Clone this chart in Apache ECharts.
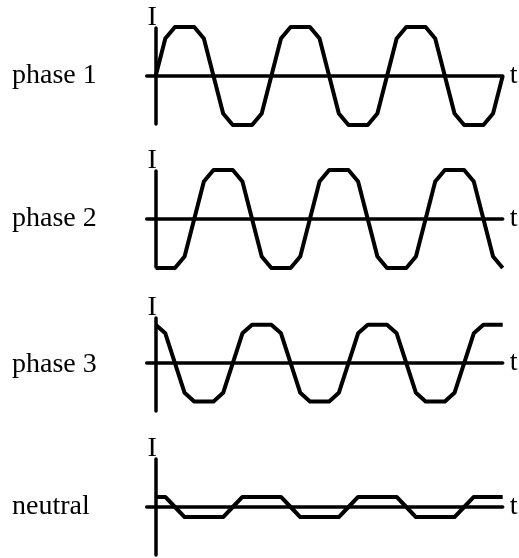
<!DOCTYPE html>
<html>
<head>
<meta charset="utf-8">
<script src="https://cdn.jsdelivr.net/npm/echarts@6/dist/echarts.min.js"></script>
<style>
  html, body { margin: 0; padding: 0; background: #fff; }
  #chart { width: 519px; height: 558px; }
</style>
</head>
<body>
<div id="chart"></div>
<script>
// time steps (30 degree steps, 3 full cycles)
let t = [0, 1, 2, 3, 4, 5, 6, 7, 8, 9, 10, 11, 12, 13, 14, 15, 16, 17, 18,
  19, 20, 21, 22, 23, 24, 25, 26, 27, 28, 29, 30, 31, 32, 33, 34, 35, 36];

let phase1 = [0, 0.78, 1.02, 1.02, 1.02, 0.78, 0, -0.78, -1.02, -1.02, -1.02, -0.78,
  0, 0.78, 1.02, 1.02, 1.02, 0.78, 0, -0.78, -1.02, -1.02, -1.02, -0.78,
  0, 0.78, 1.02, 1.02, 1.02, 0.78, 0, -0.78, -1.02, -1.02, -1.02, -0.78, 0];

let phase2 = [-1.02, -1.02, -1.02, -0.78, 0, 0.78, 1.02, 1.02, 1.02, 0.78, 0, -0.78,
  -1.02, -1.02, -1.02, -0.78, 0, 0.78, 1.02, 1.02, 1.02, 0.78, 0, -0.78,
  -1.02, -1.02, -1.02, -0.78, 0, 0.78, 1.02, 1.02, 1.02, 0.78, 0, -0.78, -1.02];

let phase3 = [0.8, 0.62, 0, -0.62, -0.8, -0.8, -0.8, -0.62, 0, 0.62, 0.8, 0.8,
  0.8, 0.62, 0, -0.62, -0.8, -0.8, -0.8, -0.62, 0, 0.62, 0.8, 0.8,
  0.8, 0.62, 0, -0.62, -0.8, -0.8, -0.8, -0.62, 0, 0.62, 0.8, 0.8, 0.8];

let neutral = [0.21, 0.21, 0, -0.21, -0.21, -0.21, -0.21, -0.21, 0, 0.21, 0.21, 0.21,
  0.21, 0.21, 0, -0.21, -0.21, -0.21, -0.21, -0.21, 0, 0.21, 0.21, 0.21,
  0.21, 0.21, 0, -0.21, -0.21, -0.21, -0.21, -0.21, 0, 0.21, 0.21, 0.21, 0.21];

let panelNames = ['phase 1', 'phase 2', 'phase 3', 'neutral'];
let yName = 'I';
let xName = 't';

let font = "'Liberation Serif', 'Times New Roman', serif";
let waves = [phase1, phase2, phase3, neutral];

// grid layout per panel: top, height, yAxis min/max
let panels = [
  { top: 28, height: 96, min: -1, max: 1 },
  { top: 171, height: 96, min: -1, max: 1 },
  { top: 318, height: 93, min: -1, max: 0.94 },
  { top: 459, height: 96, min: -1, max: 1 }
];

let grids = [], xAxes = [], yAxes = [], series = [];
panels.forEach(function (p, i) {
  grids.push({
    left: 146.7, right: 16.3, top: p.top, height: p.height,
    containLabel: false, outerBoundsMode: 'none'
  });
  xAxes.push({
    type: 'value', gridIndex: i, min: -0.93, max: 36,
    name: xName, nameLocation: 'end', nameGap: 7,
    nameTextStyle: { fontFamily: font, fontSize: 28, color: '#000', verticalAlign: 'middle' },
    axisLine: { onZero: true, lineStyle: { color: '#000', width: 3.5 } },
    axisTick: { show: false }, axisLabel: { show: false }, splitLine: { show: false }
  });
  yAxes.push({
    type: 'value', gridIndex: i, position: 'left', min: p.min, max: p.max,
    name: yName, nameLocation: 'end', nameGap: -4,
    nameTextStyle: { fontFamily: font, fontSize: 28, color: '#000', padding: [0, 7, 0, 0] },
    axisLine: { onZero: true, lineStyle: { color: '#000', width: 3.5 } },
    axisTick: { show: false }, axisLabel: { show: false }, splitLine: { show: false }
  });
  // panel label on the left, carried by a second y axis with no line
  yAxes.push({
    type: 'value', gridIndex: i, position: 'left', min: p.min, max: p.max,
    name: panelNames[i], nameLocation: 'middle', nameRotate: 0, nameGap: 134.7,
    nameTextStyle: { fontFamily: font, fontSize: 28, color: '#000', align: 'left', verticalAlign: 'middle' },
    axisLine: { show: false, onZero: true },
    axisTick: { show: false }, axisLabel: { show: false }, splitLine: { show: false }
  });
  series.push({
    type: 'line', xAxisIndex: i, yAxisIndex: i * 2,
    data: waves[i].map(function (v, k) { return [t[k], v]; }),
    symbol: 'none', clip: false, silent: true,
    lineStyle: { color: '#000', width: 4, join: 'round' }
  });
});

let myChart = echarts.init(document.getElementById('chart'), null, { renderer: 'canvas' });
myChart.setOption({
  animation: false,
  grid: grids,
  xAxis: xAxes,
  yAxis: yAxes,
  series: series
});
</script>
</body>
</html>
